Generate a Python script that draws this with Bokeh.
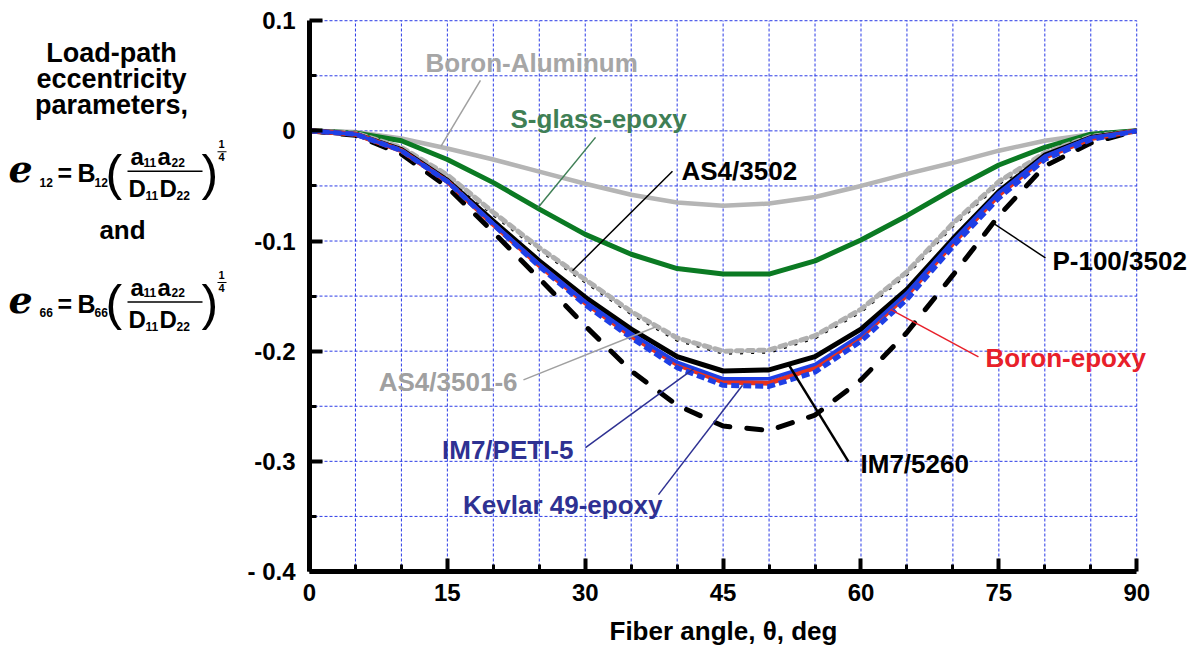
from bokeh.plotting import figure
from bokeh.models import Range1d, FixedTicker, Label, Title
from bokeh.layouts import row
from bokeh.embed import file_html
from bokeh.resources import INLINE
from bokeh.core.properties import value

# ---------------- data ----------------
theta = [0, 5, 10, 15, 20, 25, 30, 35, 40, 45, 50, 55, 60, 65, 70, 75, 80, 85, 90]

boron_aluminum = [0, -0.001, -0.007, -0.016, -0.026, -0.037, -0.048, -0.058, -0.065, -0.068,
                  -0.066, -0.060, -0.050, -0.039, -0.029, -0.018, -0.009, -0.003, 0]
s_glass_epoxy = [0, -0.002, -0.009, -0.026, -0.047, -0.071, -0.094, -0.112, -0.125, -0.130,
                 -0.130, -0.118, -0.099, -0.077, -0.053, -0.031, -0.015, -0.003, 0]
as4_3502 = [0, -0.002, -0.016, -0.041, -0.075, -0.107, -0.136, -0.165, -0.189, -0.201,
            -0.200, -0.187, -0.163, -0.129, -0.085, -0.047, -0.021, -0.006, 0]
as4_3501_6 = [0, -0.002, -0.015, -0.040, -0.074, -0.106, -0.135, -0.164, -0.188, -0.200,
              -0.199, -0.186, -0.162, -0.128, -0.084, -0.046, -0.020, -0.005, 0]
im7_5260 = [0, -0.003, -0.017, -0.045, -0.082, -0.118, -0.151, -0.180, -0.205, -0.218,
            -0.217, -0.205, -0.180, -0.144, -0.098, -0.055, -0.022, -0.006, 0]
im7_peti5 = [0, -0.003, -0.018, -0.046, -0.084, -0.121, -0.155, -0.184, -0.210, -0.225,
             -0.225, -0.212, -0.185, -0.147, -0.100, -0.056, -0.023, -0.006, 0]
boron_epoxy = [0, -0.003, -0.018, -0.046, -0.085, -0.122, -0.156, -0.186, -0.212, -0.228,
               -0.229, -0.215, -0.187, -0.149, -0.102, -0.058, -0.024, -0.007, 0]
kevlar49_epoxy = [0, -0.003, -0.018, -0.046, -0.085, -0.123, -0.158, -0.188, -0.215, -0.231,
                  -0.232, -0.219, -0.191, -0.153, -0.105, -0.061, -0.026, -0.008, 0]
p100_3502 = [0, -0.004, -0.021, -0.051, -0.092, -0.134, -0.177, -0.218, -0.249, -0.268,
             -0.272, -0.258, -0.226, -0.183, -0.131, -0.077, -0.032, -0.011, 0]

x_major = [0, 15, 30, 45, 60, 75, 90]
x_minor = [5, 10, 20, 25, 35, 40, 50, 55, 65, 70, 80, 85]
y_major = [-0.4, -0.3, -0.2, -0.1, 0, 0.1]
y_minor = [-0.35, -0.25, -0.15, -0.05, 0.05]
y_labels = ["- 0.4", "-0.3", "-0.2", "-0.1", "0", "0.1"]
grid_x = [0, 5, 10, 15, 20, 25, 30, 35, 40, 45, 50, 55, 60, 65, 70, 75, 80, 85, 90]
grid_y = [-0.4, -0.35, -0.3, -0.25, -0.2, -0.15, -0.1, -0.05, 0, 0.05, 0.1]

FONT = "Liberation Sans"
GRID = "#2b3be6"
NAVY = "#2e3192"
BASE_FIX = 0.35          # text baseline correction, in em

# ---------------- main plot ----------------
FRAME_H = 554
Y0, Y1 = -0.4, 0.102
SY = FRAME_H / (Y1 - Y0)

p = figure(width=955, height=656, output_backend="svg", toolbar_location=None,
           x_range=Range1d(0, 95.85), y_range=Range1d(Y0, Y1),
           min_border_left=70, min_border_right=4, min_border_top=18, min_border_bottom=84)
p.outline_line_color = None
p.xgrid.visible = False
p.ygrid.visible = False

# dashed blue grid, limited to the 0..90 / -0.4..0.1 box
gx0, gx1 = grid_x[0], grid_x[-1]
gy0, gy1 = grid_y[0], grid_y[-1]
p.segment(x0=grid_x, y0=[gy0] * len(grid_x), x1=grid_x, y1=[gy1] * len(grid_x),
          line_color=GRID, line_width=1, line_dash="3 2")
p.segment(x0=[gx0] * len(grid_y), y0=grid_y, x1=[gx1] * len(grid_y), y1=grid_y,
          line_color=GRID, line_width=1, line_dash="3 2")

for ax in (p.xaxis[0], p.yaxis[0]):
    ax.axis_line_width = 5
    ax.axis_line_color = "black"
    ax.major_tick_in = 13
    ax.major_tick_out = 0
    ax.major_tick_line_width = 4
    ax.minor_tick_in = 7
    ax.minor_tick_out = 0
    ax.minor_tick_line_width = 3
    ax.major_label_text_font = FONT
    ax.major_label_text_font_size = "24px"
    ax.major_label_text_font_style = "bold"
    ax.major_label_text_color = "black"

xa = p.xaxis[0]
xa.bounds = (gx0, gx1)
xa.ticker = FixedTicker(ticks=x_major, minor_ticks=x_minor)
xa.major_label_standoff = 12

ya = p.yaxis[0]
ya.bounds = (gy0, gy1)
ya.ticker = FixedTicker(ticks=y_major, minor_ticks=y_minor)
ya.major_label_standoff = 14
ya.major_label_overrides = {v: s for v, s in zip(y_major, y_labels)}

# x-axis title, centred under the 0..90 span
p.add_layout(Title(text="Fiber angle, \u03b8, deg", align="left", offset=300,
                   vertical_align="bottom", text_font=FONT, text_font_size="26px",
                   text_font_style="bold", text_color="black", standoff=21), "below")

# curves
p.line(theta, boron_aluminum, line_color="#b5b5b5", line_width=4.5, line_join="round")
p.line(theta, s_glass_epoxy, line_color="#0b7a23", line_width=5, line_join="round")
p.line(theta, p100_3502, line_color="black", line_width=5, line_dash="15 17", line_cap="round")
p.line(theta, as4_3502, line_color="black", line_width=5, line_dash="3 8")
p.line(theta, as4_3501_6, line_color="#b0b0b0", line_width=5, line_dash="6 5",
       line_dash_offset=4, line_cap="round")
p.line(theta, im7_5260, line_color="black", line_width=5, line_join="round")
p.line(theta, boron_epoxy, line_color="#e8321e", line_width=5, line_join="round")
p.line(theta, im7_peti5, line_color="#1e3fe6", line_width=3.5, line_join="round")
p.line(theta, kevlar49_epoxy, line_color="#1e3fe6", line_width=5, line_dash="8 4")

# leader lines (annotation anchors in data units)
leaders = [
    ((18.60, 0.0459), (14.30, -0.0140), "#a0a0a0", 1.5),
    ((31.12, -0.0059), (24.81, -0.0702), "#3f7f55", 1.5),
    ((39.49, -0.0366), (28.61, -0.1270), "black", 1.5),
    ((23.28, -0.2260), (37.64, -0.1780), "#a0a0a0", 1.5),
    ((30.03, -0.2876), (41.78, -0.2160), NAVY, 1.5),
    ((37.97, -0.3302), (47.11, -0.2310), NAVY, 1.5),
    ((58.64, -0.3003), (52.11, -0.2120), "black", 2.5),
    ((72.78, -0.2052), (63.20, -0.1620), "#e8202a", 1.5),
    ((80.07, -0.1154), (74.42, -0.0840), "black", 1.5),
]
for (a, b, c, w) in leaders:
    p.segment(x0=[a[0]], y0=[a[1]], x1=[b[0]], y1=[b[1]], line_color=c, line_width=w)

LABEL_PX = 26
curve_labels = [
    ("Boron-Aluminum", 12.62, 0.0530, "left", "#a6a6a6"),
    ("S-glass-epoxy", 21.87, 0.0023, "left", "#3f7f55"),
    ("AS4/3502", 40.47, -0.0448, "left", "black"),
    ("P-100/3502", 80.83, -0.1263, "left", "black"),
    ("Boron-epoxy", 73.55, -0.2142, "left", "#e8202a"),
    ("AS4/3501-6", 22.63, -0.2360, "right", "#a0a0a0"),
    ("IM7/PETI-5", 28.72, -0.2976, "right", NAVY),
    ("IM7/5260", 59.95, -0.3103, "left", "black"),
    ("Kevlar 49-epoxy", 38.40, -0.3483, "right", NAVY),
]
for (txt_, lx, ly, al, col) in curve_labels:
    p.add_layout(Label(x=lx, y=ly + BASE_FIX * LABEL_PX / SY, text=txt_, text_font=FONT,
                       text_font_size=f"{LABEL_PX}px", text_font_style="bold",
                       text_color=col, text_align=al, text_baseline="alphabetic"))

# ---------------- left text panel (frame aligned with the plot frame) ----------------
t = figure(width=239, height=656, output_backend="svg", toolbar_location=None,
           x_range=Range1d(0, 239), y_range=Range1d(572, 18),
           min_border=0, x_axis_location=None, y_axis_location=None)
t.grid.visible = False
t.outline_line_color = None


def txt(x, y, s, size, style="bold", align="left", font=FONT):
    t.text(x=[x], y=[y - BASE_FIX * size], text=[s], text_font=value(font),
           text_font_size=f"{size}px", text_font_style=style, text_align=align,
           text_baseline="alphabetic", text_color="black")


txt(111, 62, "Load-path", 27, align="center")
txt(111, 88, "eccentricity", 27, align="center")
txt(111, 114, "parameters,", 27, align="center")
txt(122, 239, "and", 26, align="center")

for dy_, sub in ((0, "12"), (131, "66")):
    b = 182 + dy_
    txt(8, b, "e", 38, style="bold italic", font="DejaVu Serif")
    txt(39, b + 4, sub, 12)
    txt(57, b, "=", 25)
    txt(77, b, "B", 25)
    txt(94, b + 4, sub, 12)
    txt(105, b + 8, "(", 50, style="normal")
    txt(201, b + 8, ")", 50, style="normal")
    # numerator
    txt(130, b - 17, "a", 24)
    txt(143, b - 16, "11", 12)
    txt(157, b - 17, "a", 24)
    txt(171, b - 16, "22", 12)
    t.segment(x0=[127], y0=[b - 11], x1=[202], y1=[b - 11], line_color="black", line_width=1.5)
    # denominator
    txt(128, b + 15, "D", 24)
    txt(145, b + 18, "11", 12)
    txt(159, b + 15, "D", 24)
    txt(176, b + 18, "22", 12)
    # exponent 1/4
    txt(221, b - 34, "1", 11, align="center")
    t.segment(x0=[217], y0=[b - 30.5], x1=[226], y1=[b - 30.5], line_color="black", line_width=1.2)
    txt(221, b - 21, "4", 11, align="center")

layout = row(t, p)
open("out.html", "w").write(file_html(layout, INLINE))
